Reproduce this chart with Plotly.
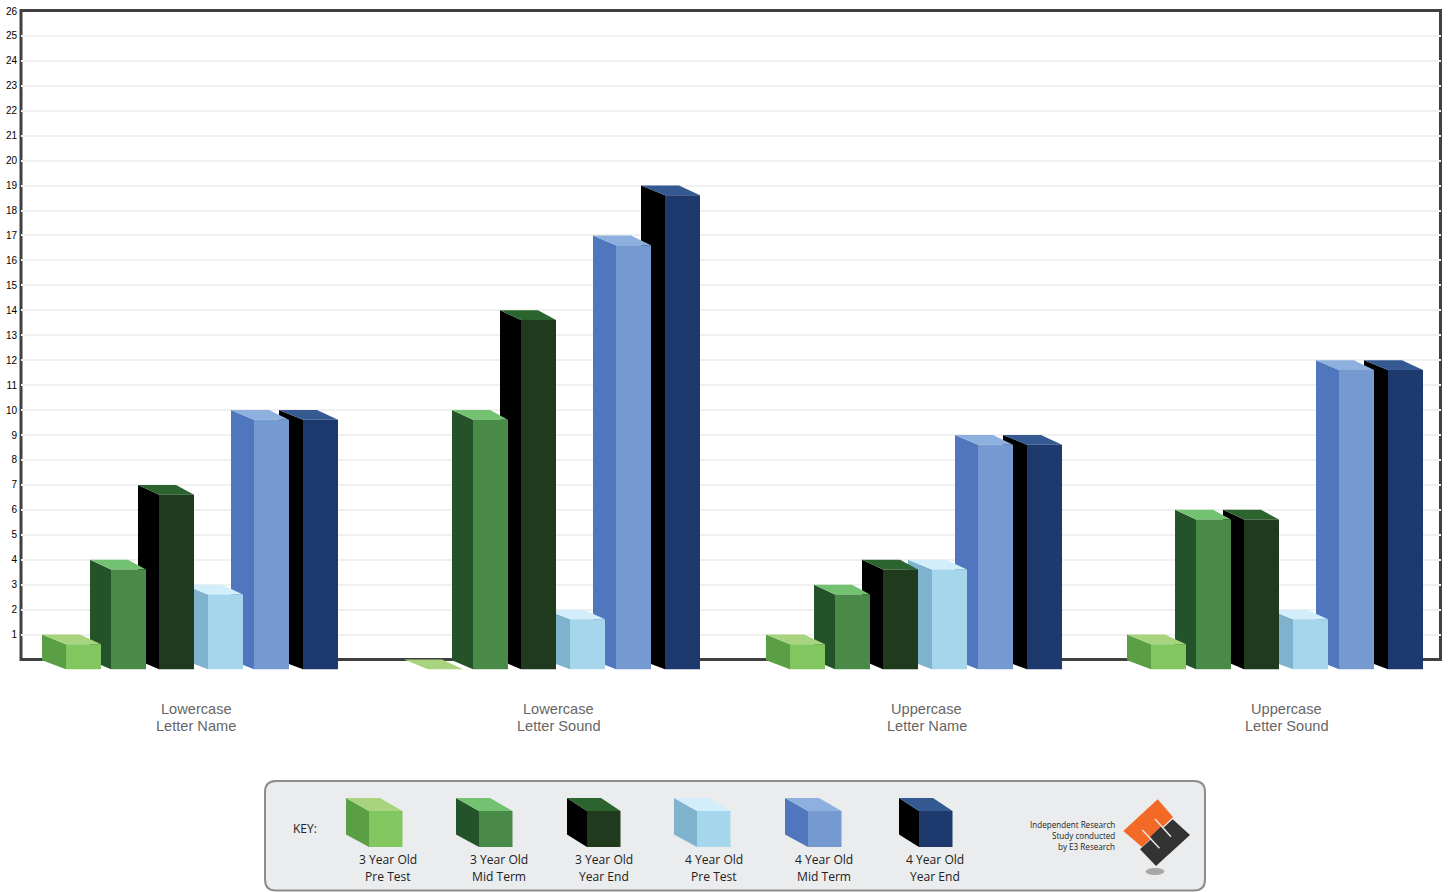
import plotly.graph_objects as go

# ---- data ----
skills_line1 = ["Lowercase", "Lowercase", "Uppercase", "Uppercase"]
skills_line2 = ["Letter Name", "Letter Sound", "Letter Name", "Letter Sound"]
series_line1 = ["3 Year Old", "3 Year Old", "3 Year Old", "4 Year Old", "4 Year Old", "4 Year Old"]
series_line2 = ["Pre Test", "Mid Term", "Year End", "Pre Test", "Mid Term", "Year End"]
three_pre = [1, 0, 1, 1]
three_mid = [4, 10, 3, 6]
three_end = [7, 14, 4, 6]
four_pre = [3, 2, 4, 2]
four_mid = [10, 17, 9, 12]
four_end = [10, 19, 9, 12]
y_ticks = list(range(1, 27))

# ---- styling / layout constants ----
series_values = [three_pre, three_mid, three_end, four_pre, four_mid, four_end]
TOPS = ["#A9D47F", "#72C272", "#2B642F", "#D2EEFB", "#8DB0DE", "#355A92"]
SIDES = ["#5A9F45", "#24532A", "#000000", "#7FB2CC", "#5077BE", "#000000"]
FRONTS = ["#82C660", "#498A48", "#1F3A1C", "#A6D6EC", "#759AD2", "#1E396D"]
GROUP_X = [42, 404, 766, 1127]
BAR_OFFSET = [0, 48, 96, 142, 189, 237]
BAR_DX = [24, 21, 21, 24, 23, 24]
BAR_W = 35
DEPTH = 0.39
Y_LOW = -0.42
L, R, T, B = 21, 1441, 11, 670
BASE = 659.5
W, H = 1449, 892


def px(x):
    return (x - L) / (R - L)


def py(y):
    return (B - y) / (B - T)


def polys(pts_list):
    xs, ys = [], []
    for pts in pts_list:
        xs += [p[0] for p in pts] + [pts[0][0], None]
        ys += [p[1] for p in pts] + [pts[0][1], None]
    return xs, ys


fig = go.Figure()


def add_face(pts_list, color, name):
    xs, ys = polys(pts_list)
    fig.add_trace(go.Scatter(x=xs, y=ys, mode="lines", fill="toself", fillcolor=color,
                             line=dict(width=0, color=color), hoverinfo="skip",
                             showlegend=False, cliponaxis=False, name=name))


for s in range(5, -1, -1):
    side, top, front = [], [], []
    for g, v in enumerate(series_values[s]):
        x0 = GROUP_X[g] + BAR_OFFSET[s]
        x1 = x0 + BAR_DX[s]
        x2 = x1 + BAR_W
        xb = x0 + BAR_W + 3
        top.append([(x0, v), (xb, v), (x2, v - DEPTH), (x1, v - DEPTH)])
        if v > 0:
            side.append([(x0, v), (x1, v - DEPTH), (x1, -DEPTH), (x0, -0.03)])
            front.append([(x1, v - DEPTH), (x2, v - DEPTH), (x2, -DEPTH), (x1, -DEPTH)])
    name = series_line1[s] + " " + series_line2[s]
    add_face(side, SIDES[s], name + " side")
    add_face(top, TOPS[s], name + " top")
    add_face(front, FRONTS[s], name)

shapes = []
annotations = []


def poly_shape(pts, fill, layer="above"):
    path = "M " + " L ".join(f"{px(x):.5f},{py(y):.5f}" for x, y in pts) + " Z"
    return dict(type="path", xref="paper", yref="paper", path=path, fillcolor=fill,
                line=dict(width=0), layer=layer)


def seg(x0, y0, x1, y1, color, width):
    return dict(type="line", xref="paper", yref="paper", x0=px(x0), y0=py(y0), x1=px(x1), y1=py(y1),
                line=dict(color=color, width=width), layer="above")


def label(x, y, text, size, color, family, anchor="center"):
    annotations.append(dict(xref="paper", yref="paper", x=px(x), y=py(y), text=text, showarrow=False,
                            xanchor=anchor, yanchor="middle",
                            font=dict(size=size, color=color, family=family)))


# white masks: grid stops short of the right frame and under the baseline
shapes.append(dict(type="rect", xref="paper", yref="paper", x0=px(1435), x1=1.0, y0=py(BASE), y1=1.0,
                   fillcolor="white", line=dict(width=0), layer="between"))
shapes.append(dict(type="rect", xref="paper", yref="paper", x0=px(21), x1=px(1440.5), y0=py(BASE), y1=py(10.5),
                   fillcolor="rgba(0,0,0,0)", line=dict(color="#404040", width=3), layer="between"))

# category labels
for cx, a, b in zip([196, 558.5, 926.5, 1286.5], skills_line1, skills_line2):
    label(cx, 709, a, 14.6, "#666666", "Liberation Sans")
    label(cx, 726, b, 14.6, "#666666", "Liberation Sans")

# key panel
r = 11
lx, rx, ty, by = 265, 1205, 781, 890.5
panel = (f"M {px(lx + r)},{py(ty)} L {px(rx - r)},{py(ty)} Q {px(rx)},{py(ty)} {px(rx)},{py(ty + r)} "
         f"L {px(rx)},{py(by - r)} Q {px(rx)},{py(by)} {px(rx - r)},{py(by)} "
         f"L {px(lx + r)},{py(by)} Q {px(lx)},{py(by)} {px(lx)},{py(by - r)} "
         f"L {px(lx)},{py(ty + r)} Q {px(lx)},{py(ty)} {px(lx + r)},{py(ty)} Z")
shapes.append(dict(type="path", xref="paper", yref="paper", path=panel, fillcolor="#EBECED",
                   line=dict(color="#8C8C8C", width=2), layer="above"))
label(305, 828, "KEY:", 12, "#222222", "Open Sans")

KEY_X = [346, 456, 567, 674, 785, 899]
KEY_DX = [23, 23, 20, 23, 23, 20]
KEY_TEXT_X = [388, 498.5, 604, 714, 824, 935]
for i in range(6):
    x0, dx = KEY_X[i], KEY_DX[i]
    x1, x2 = x0 + dx, x0 + dx + 33.5
    shapes.append(poly_shape([(x0, 798), (x1, 811), (x1, 847), (x0, 834.5)], SIDES[i]))
    shapes.append(poly_shape([(x0, 798), (x0 + 34, 798), (x2, 811), (x1, 811)], TOPS[i]))
    shapes.append(poly_shape([(x1, 811), (x2, 811), (x2, 847), (x1, 847)], FRONTS[i]))
    label(KEY_TEXT_X[i], 859.5, series_line1[i], 12.1, "#222222", "Open Sans")
    label(KEY_TEXT_X[i], 876.5, series_line2[i], 12.1, "#222222", "Open Sans")

for y, t in zip([824, 835.5, 846.5], ["Independent Research", "Study conducted", "by E3 Research"]):
    label(1116.5, y, t, 8.1, "#222222", "Open Sans", "right")

# logo
shapes.append(dict(type="circle", xref="paper", yref="paper", x0=px(1145.5), x1=px(1164.5), y0=py(868), y1=py(875),
                   fillcolor="#A8A8A8", line=dict(width=0), layer="above"))
shapes.append(poly_shape([(1157.7, 799.3), (1173, 817), (1142, 847), (1123.3, 831)], "#F26A25"))
shapes.append(poly_shape([(1172.7, 819.3), (1190, 835), (1156, 866), (1140, 849.3)], "#333333"))
shapes.append(seg(1151.5, 838.5, 1163, 827.5, "#333333", 4))
shapes.append(seg(1142.3, 830, 1159.5, 848.3, "#E8E8E8", 1.5))
shapes.append(seg(1155, 819, 1171, 836.7, "#E8E8E8", 1.5))

fig.update_layout(
    width=W, height=H, autosize=False,
    margin=dict(l=L, r=W - R, t=T, b=H - B, pad=0, autoexpand=False),
    paper_bgcolor="white", plot_bgcolor="white",
    shapes=shapes, annotations=annotations,
    showlegend=False,
    font=dict(family="Liberation Sans"),
    xaxis=dict(range=[L, R], showgrid=False, zeroline=False, showticklabels=False, ticks="",
               showline=False, automargin=False),
    yaxis=dict(range=[Y_LOW, 26], tickmode="array", tickvals=y_ticks, ticktext=[str(v) for v in y_ticks],
               showgrid=True, gridcolor="#F0F0F0", gridwidth=1.5, zeroline=False,
               ticks="outside", ticklen=1, tickcolor="rgba(0,0,0,0)",
               tickfont=dict(size=10, color="#000000", family="Liberation Sans"),
               showline=False, automargin=False),
)

fig.write_html("out.html", config=dict(displayModeBar=False),
               post_script="document.body.style.margin='0';document.body.style.overflow='hidden';")
